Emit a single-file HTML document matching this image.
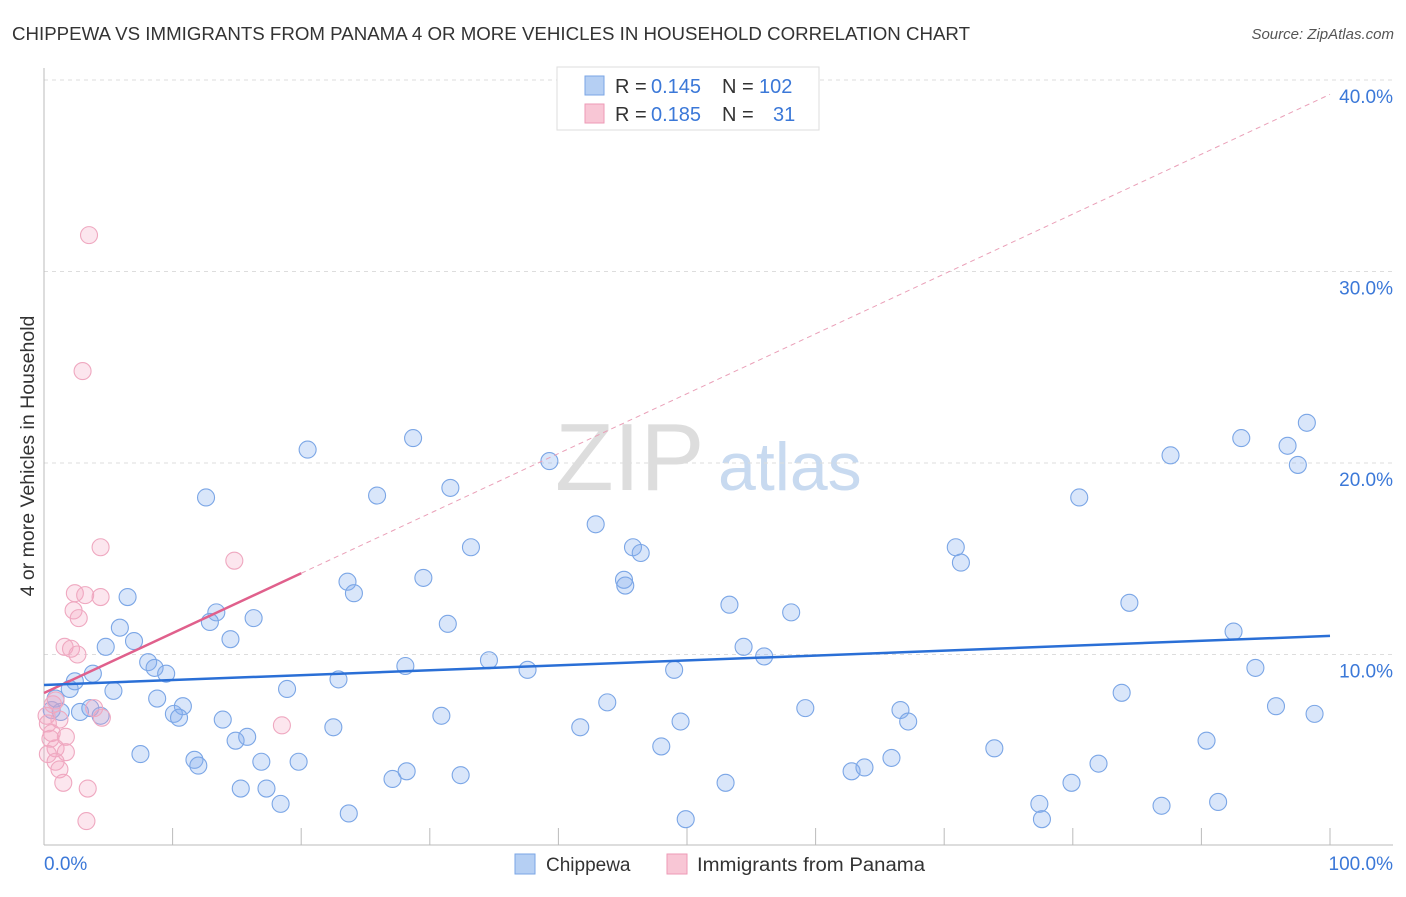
<!DOCTYPE html>
<html><head><meta charset="utf-8"><style>
body{margin:0;background:#fff;font-family:"Liberation Sans",sans-serif;}
svg text{font-family:"Liberation Sans",sans-serif;}
</style></head><body>
<svg width="1406" height="892" viewBox="0 0 1406 892" xmlns="http://www.w3.org/2000/svg">
<text x="12" y="40" font-size="18" fill="#333" textLength="958" lengthAdjust="spacingAndGlyphs">CHIPPEWA VS IMMIGRANTS FROM PANAMA 4 OR MORE VEHICLES IN HOUSEHOLD CORRELATION CHART</text>
<text x="1394" y="39" font-size="15" fill="#555" text-anchor="end" font-style="italic">Source: ZipAtlas.com</text>
<text x="555" y="490" font-size="96" fill="#ddd" font-family="Liberation Serif">ZIP</text>
<text x="718" y="490" font-size="68" fill="#c8daf0">atlas</text>
<g id="grid"></g>
<g id="axes"></g>
<g id="marks"></g>
<text x="34" y="456" font-size="19.5" fill="#333" text-anchor="middle" transform="rotate(-90 34 456)">4 or more Vehicles in Household</text>
<g>
<rect x="557" y="67" width="262" height="63" fill="#fff" stroke="#ddd"/>
<rect x="585" y="76" width="19" height="19" fill="#b5cff3" stroke="#7aa6e6"/>
<rect x="585" y="104" width="19" height="19" fill="#f8c6d5" stroke="#ee9ab6"/>
<text x="615" y="93" font-size="20" fill="#333">R =</text>
<text x="651" y="93" font-size="20" fill="#3b78d8">0.145</text>
<text x="722" y="93" font-size="20" fill="#333">N =</text>
<text x="759" y="93" font-size="20" fill="#3b78d8">102</text>
<text x="615" y="121" font-size="20" fill="#333">R =</text>
<text x="651" y="121" font-size="20" fill="#3b78d8">0.185</text>
<text x="722" y="121" font-size="20" fill="#333">N =</text>
<text x="773" y="121" font-size="20" fill="#3b78d8">31</text>
</g>
<g>
<rect x="515" y="854" width="20" height="20" fill="#b5cff3" stroke="#7aa6e6"/>
<text x="546" y="871" font-size="19" fill="#333">Chippewa</text>
<rect x="667" y="854" width="20" height="20" fill="#f8c6d5" stroke="#ee9ab6"/>
<text x="697" y="871" font-size="19" fill="#333" textLength="228" lengthAdjust="spacingAndGlyphs">Immigrants from Panama</text>
</g>
</svg>
<script>
const blueX=[20.5,28.7,12.6,25.9,31.6,39.3,42.9,33.2,45.8,46.4,29.5,23.6,24.1,45.1,45.2,6.5,13.4,16.3,12.9,31.4,5.9,14.5,7.0,4.8,8.1,8.6,9.5,3.8,28.1,34.6,37.6,22.9,2.4,2.0,5.4,18.9,8.8,10.8,0.9,0.6,1.3,2.8,3.6,4.4,10.1,10.5,13.9,30.9,22.5,7.5,11.7,12.0,14.9,15.8,16.9,19.8,15.3,17.3,18.4,23.7,27.1,28.2,32.4,41.7,43.8,48.0,49.5,49.0,49.9,53.0,53.3,54.4,56.0,58.1,59.2,62.8,63.8,65.9,66.6,67.2,70.9,71.3,73.9,77.4,77.6,79.9,80.5,82.0,83.8,84.4,86.9,87.6,90.4,91.3,92.5,93.1,94.2,95.8,96.7,97.5,98.2,98.8];
const blueY=[20.7,21.3,18.2,18.3,18.7,20.1,16.8,15.6,15.6,15.3,14.0,13.8,13.2,13.9,13.6,13.0,12.2,11.9,11.7,11.6,11.4,10.8,10.7,10.4,9.6,9.3,9.0,9.0,9.4,9.7,9.2,8.7,8.6,8.2,8.1,8.2,7.7,7.3,7.7,7.1,7.0,7.0,7.2,6.8,6.9,6.7,6.6,6.8,6.2,4.8,4.5,4.2,5.5,5.7,4.4,4.4,3.0,3.0,2.2,1.7,3.5,3.9,3.7,6.2,7.5,5.2,6.5,9.2,1.4,3.3,12.6,10.4,9.9,12.2,7.2,3.9,4.1,4.6,7.1,6.5,15.6,14.8,5.1,2.2,1.4,3.3,18.2,4.3,8.0,12.7,2.1,20.4,5.5,2.3,11.2,21.3,9.3,7.3,20.9,19.9,22.1,6.9];
const pinkX=[3.5,3.0,4.4,14.8,2.4,3.2,4.4,2.3,2.7,1.6,2.1,2.6,0.7,0.2,1.2,0.3,0.6,1.7,0.5,0.9,1.7,0.3,0.9,1.2,1.5,3.4,3.3,18.5,4.5,3.9,0.9];
const pinkY=[31.9,24.8,15.6,14.9,13.2,13.1,13.0,12.3,11.9,10.4,10.3,10.0,7.4,6.8,6.6,6.4,5.9,5.7,5.6,5.1,4.9,4.8,4.4,4.0,3.3,3.0,1.3,6.3,6.7,7.2,7.6];
const blueTrend=[8.41,10.97];
const pinkTrend=[7.99,39.25];
const pinkSolidEnd=20;
const yTicks=[10,20,30,40];
const xTickLabels=["0.0%","100.0%"];

const NS="http://www.w3.org/2000/svg";
const X0=44,X1=1330,YB=846,PXY=19.15;
const sx=v=>X0+(X1-X0)*v/100;
const sy=v=>YB-v*PXY;
function mk(tag,attrs,parent){const e=document.createElementNS(NS,tag);for(const k in attrs)e.setAttribute(k,attrs[k]);parent.appendChild(e);return e;}
const grid=document.getElementById('grid'),axes=document.getElementById('axes'),marks=document.getElementById('marks');
yTicks.forEach(t=>{
  const l=mk('line',{x1:44,x2:1393,y1:sy(t),y2:sy(t),stroke:'#ddd','stroke-dasharray':'4,4'},grid);
  
  
  const tx=mk('text',{x:1393,y:sy(t)+23,'font-size':19,fill:'#3b78d8','text-anchor':'end'},axes);
  tx.textContent=t.toFixed(1)+'%';
  
  
});
const ax=mk('line',{x1:44,x2:1393,y1:845,y2:845,stroke:'#bbb'},axes);


const ay=mk('line',{x1:44,x2:44,y1:68,y2:845,stroke:'#bbb'},axes);


for(let i=0;i<=10;i++){
  const t=mk('line',{x1:sx(i*10),x2:sx(i*10),y1:828,y2:845,stroke:'#bbb'},axes);
  
  
}
const xl0=mk('text',{x:44,y:870,'font-size':19,fill:'#3b78d8'},axes);
xl0.textContent=xTickLabels[0];


const xl1=mk('text',{x:1393,y:870,'font-size':19,fill:'#3b78d8','text-anchor':'end'},axes);
xl1.textContent=xTickLabels[1];



blueX.forEach((x,i)=>{
  const c=mk('circle',{cx:sx(x),cy:sy(blueY[i]),r:8.5,fill:'rgba(130,172,238,0.3)',stroke:'#7ba6e6','stroke-width':1.1},marks);
  
  
});
pinkX.forEach((x,i)=>{
  const c=mk('circle',{cx:sx(x),cy:sy(pinkY[i]),r:8.5,fill:'rgba(245,165,195,0.28)',stroke:'#efa8c0','stroke-width':1.1},marks);
  
  
});
const pAt=x=>pinkTrend[0]+(pinkTrend[1]-pinkTrend[0])*x/100;
const pd=mk('line',{x1:sx(pinkSolidEnd),y1:sy(pAt(pinkSolidEnd)),x2:sx(100),y2:sy(pAt(100)),stroke:'#eaa0b8','stroke-width':1,'stroke-dasharray':'5,4'},marks);


const ps=mk('line',{x1:sx(0),y1:sy(pAt(0)),x2:sx(pinkSolidEnd),y2:sy(pAt(pinkSolidEnd)),stroke:'#e0608c','stroke-width':2.5},marks);


const bt=mk('line',{x1:sx(0),y1:sy(blueTrend[0]),x2:sx(100),y2:sy(blueTrend[1]),stroke:'#2a6fd6','stroke-width':2.5},marks);


</script>
</body></html>
